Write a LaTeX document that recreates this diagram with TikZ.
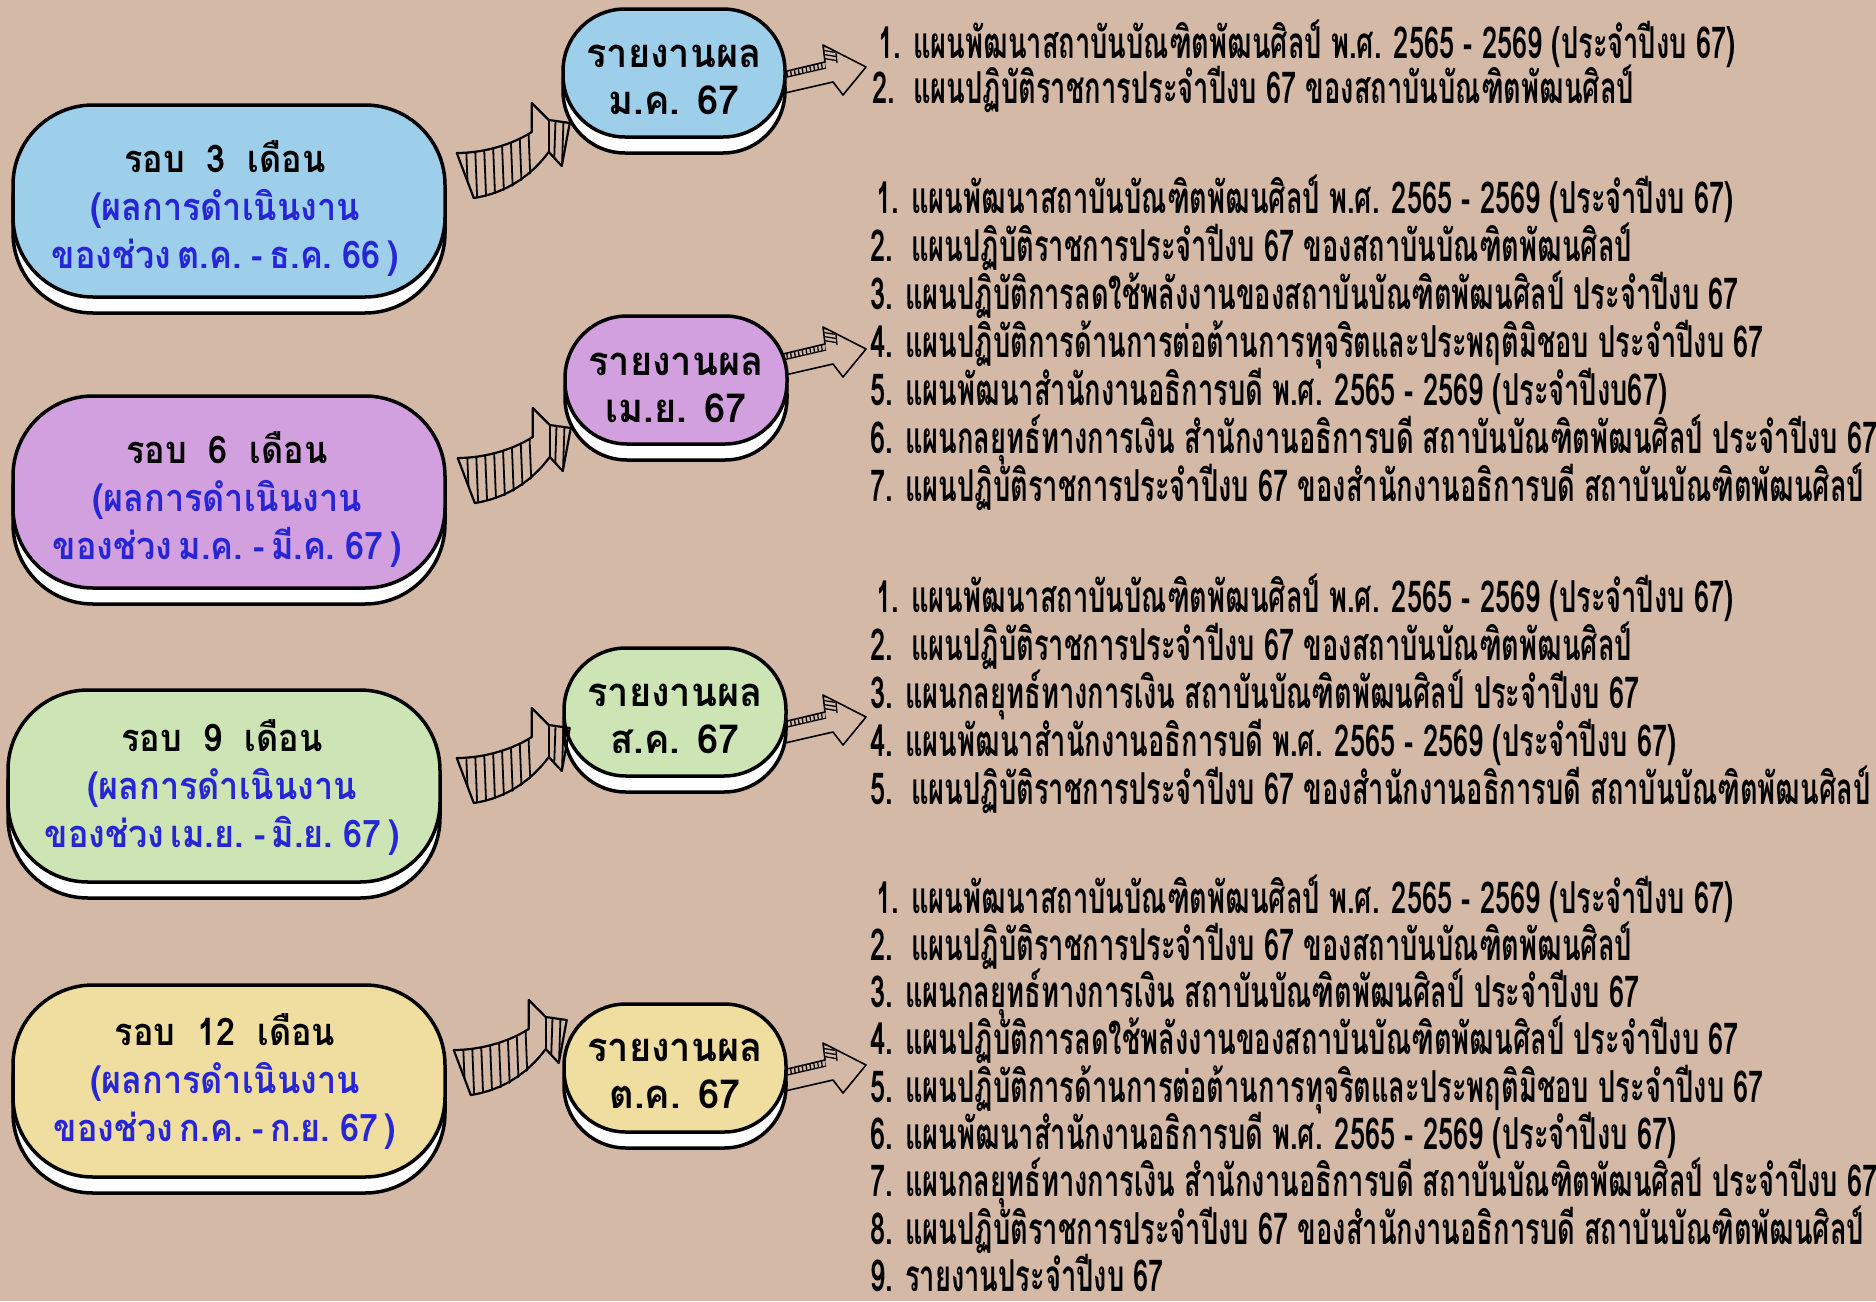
\documentclass[tikz,border=0pt]{standalone}
\usepackage{fontspec}
\usetikzlibrary{shadows,calc}
\newfontfamily\thaibox[Script=Thai,FakeStretch=0.9,WordSpace=0.55]{Loma}
\newfontfamily\thairep[Script=Thai,FakeStretch=0.95]{Loma}
\newfontfamily\thaicond[Script=Thai,FakeStretch=0.62]{Loma}
\newcommand{\gapw}{\hspace{22pt}}
\definecolor{bg}{RGB}{213,185,167}
\definecolor{cblue}{RGB}{157,206,234}
\definecolor{cpurple}{RGB}{210,160,222}
\definecolor{cgreen}{RGB}{205,228,181}
\definecolor{cyellow}{RGB}{240,221,160}
\definecolor{tblue}{RGB}{38,38,214}
\tikzset{
  boxshadow/.style={copy shadow={shadow xshift=0pt, shadow yshift=-16pt, fill=white, draw=black, line width=3.5pt}},
  bigbox/.style={draw=black, line width=3.5pt, rounded corners=80pt, minimum width=432pt, minimum height=192pt,
    inner sep=0pt, boxshadow},
  bigtext/.style={align=center, inner sep=0pt, font=\thaibox\bfseries\fontsize{38}{48}\selectfont},
  repbox/.style={draw=black, line width=3.5pt, rounded corners=62pt, minimum width=222pt, minimum height=128pt,
    inner sep=0pt, boxshadow},
  reptext/.style={align=center, inner sep=0pt, font=\thairep\bfseries\fontsize{40}{47}\selectfont},
  listline/.style={anchor=base west, inner sep=0pt, text depth=3pt, font=\thaicond\bfseries\fontsize{44}{48}\selectfont},
  arrowline/.style={line width=2.2pt, line join=round, line cap=round},
  hatch/.style={line width=1.8pt},
  bigarrow/.pic={
    \begin{scope}
      \clip (0,0) .. controls (30,0) and (58,-10) .. (75,-21) -- (76,19) .. controls (55,37) and (40,42) .. (17,45) -- cycle;
      \foreach \x in {8,17,...,80} \draw[hatch] (\x,-40) -- (\x+4,60);
    \end{scope}
    \begin{scope}
      \clip (92,-33) -- (113,-30) -- (105,13) -- (92,-1) -- cycle;
      \foreach \x in {99,107} \draw[hatch] (\x,-40) -- (\x-2,20);
    \end{scope}
    \draw[arrowline] (0,0) .. controls (30,0) and (58,-10) .. (75,-21) -- (75,-50) -- (92,-33) -- (113,-30)
      -- (105,13) -- (92,-1) .. controls (75,22) and (50,40) .. (17,45) -- cycle;
    \draw[arrowline] (92,-33) -- (92,-1);
  },
  smallarrow/.pic={
    \begin{scope}
      \clip (0,2) -- (42,-8) -- (43,-2) -- (0,8) -- cycle;
      \foreach \x in {2,6,...,46} \draw[line width=1.3pt] (\x,-10) -- (\x+3,10);
    \end{scope}
    \begin{scope}
      \clip (40,-25) -- (53,-17) -- (54,-7) -- (42,-8) -- cycle;
      \foreach \y in {-24,-20,...,-6} \draw[line width=1.3pt] (38,\y) -- (56,\y+3);
    \end{scope}
    \draw[line width=1.6pt, line join=round] (0,2) -- (42,-8) -- (40,-25) -- (83,-3) -- (60,25) -- (50,12) -- (2,23);
    \draw[line width=1.3pt] (0,8) -- (43,-2);
    \draw[line width=1.3pt] (53,-17) -- (54,-7);
  }
}
\begin{document}
\begin{tikzpicture}[x=1pt,y=-1pt]
\useasboundingbox (0,0) rectangle (1876,1301);
\fill[bg] (0,0) rectangle (1876,1301);

% small arrows (drawn first, report boxes cover their roots)
\pic at (783,70) {smallarrow};
\pic at (783,352) {smallarrow};
\pic at (783,720) {smallarrow};
\pic at (783,1068) {smallarrow};

% period boxes
\node[bigbox, fill=cblue] (b1) at (229,201) {};
\node[bigbox, fill=cpurple] (b2) at (229,492) {};
\node[bigbox, fill=cgreen] (b3) at (224,786) {};
\node[bigbox, fill=cyellow] (b4) at (229,1081) {};
\node[bigtext] (t1) at ($(b1.center)+(-4,8)$) {รอบ\gapw 3\gapw เดือน\\\textcolor{tblue}{(ผลการดำเนินงาน}\\\textcolor{tblue}{ของช่วง ต.ค. - ธ.ค. 66 )}};
\node[bigtext] (t2) at ($(b2.center)+(-2,8)$) {รอบ\gapw 6\gapw เดือน\\\textcolor{tblue}{(ผลการดำเนินงาน}\\\textcolor{tblue}{ของช่วง ม.ค. - มี.ค. 67 )}};
\node[bigtext] (t3) at ($(b3.center)+(-2,2)$) {รอบ\gapw 9\gapw เดือน\\\textcolor{tblue}{(ผลการดำเนินงาน}\\\textcolor{tblue}{ของช่วง เม.ย. - มิ.ย. 67 )}};
\node[bigtext] (t4) at ($(b4.center)+(-4,0)$) {รอบ\gapw 12\gapw เดือน\\\textcolor{tblue}{(ผลการดำเนินงาน}\\\textcolor{tblue}{ของช่วง ก.ค. - ก.ย. 67 )}};

% report boxes
\node[repbox, fill=cblue] (r1) at (674,73) {};
\node[repbox, fill=cpurple] (r2) at (676,380) {};
\node[repbox, fill=cgreen] (r3) at (675,712) {};
\node[repbox, fill=cyellow] (r4) at (675,1068) {};
\node[reptext] (s1) at ($(r1.center)+(0,7)$) {รายงานผล\\ม.ค. 67};
\node[reptext] (s2) at ($(r2.center)+(0,8)$) {รายงานผล\\เม.ย. 67};
\node[reptext] (s3) at ($(r3.center)+(0,7)$) {รายงานผล\\ส.ค. 67};
\node[reptext] (s4) at ($(r4.center)+(0,6)$) {รายงานผล\\ต.ค. 67};

% big hand-drawn arrows between the boxes
\pic at ($(b1.east)+(10,-48)$) {bigarrow};
\pic at ($(b2.east)+(11,-34)$) {bigarrow};
\pic at ($(b3.east)+(15,-28)$) {bigarrow};
\pic at ($(b4.east)+(7,-31)$) {bigarrow};

% lists
\foreach \t [count=\i] in {
  {\hspace{6pt}1. แผนพัฒนาสถาบันบัณฑิตพัฒนศิลป์ พ.ศ. 2565 - 2569 (ประจำปีงบ 67)},
  {2.\ \ แผนปฏิบัติราชการประจำปีงบ 67 ของสถาบันบัณฑิตพัฒนศิลป์}}
  \node[listline] (la\i) at (872,{58+45*(\i-1)}) {\t};

\foreach \t [count=\i] in {
  {\hspace{6pt}1. แผนพัฒนาสถาบันบัณฑิตพัฒนศิลป์ พ.ศ. 2565 - 2569 (ประจำปีงบ 67)},
  {2.\ \ แผนปฏิบัติราชการประจำปีงบ 67 ของสถาบันบัณฑิตพัฒนศิลป์},
  {3. แผนปฏิบัติการลดใช้พลังงานของสถาบันบัณฑิตพัฒนศิลป์ ประจำปีงบ 67},
  {4. แผนปฏิบัติการด้านการต่อต้านการทุจริตและประพฤติมิชอบ ประจำปีงบ 67},
  {5. แผนพัฒนาสำนักงานอธิการบดี พ.ศ. 2565 - 2569 (ประจำปีงบ67)},
  {6. แผนกลยุทธ์ทางการเงิน สำนักงานอธิการบดี สถาบันบัณฑิตพัฒนศิลป์ ประจำปีงบ 67},
  {7. แผนปฏิบัติราชการประจำปีงบ 67 ของสำนักงานอธิการบดี สถาบันบัณฑิตพัฒนศิลป์}}
  \node[listline] (lb\i) at (870,{213+48*(\i-1)}) {\t};

\foreach \t [count=\i] in {
  {\hspace{6pt}1. แผนพัฒนาสถาบันบัณฑิตพัฒนศิลป์ พ.ศ. 2565 - 2569 (ประจำปีงบ 67)},
  {2.\ \ แผนปฏิบัติราชการประจำปีงบ 67 ของสถาบันบัณฑิตพัฒนศิลป์},
  {3. แผนกลยุทธ์ทางการเงิน สถาบันบัณฑิตพัฒนศิลป์ ประจำปีงบ 67},
  {4. แผนพัฒนาสำนักงานอธิการบดี พ.ศ. 2565 - 2569 (ประจำปีงบ 67)},
  {5.\ \ แผนปฏิบัติราชการประจำปีงบ 67 ของสำนักงานอธิการบดี สถาบันบัณฑิตพัฒนศิลป์}}
  \node[listline] (lc\i) at (870,{612+48*(\i-1)}) {\t};

\foreach \t [count=\i] in {
  {\hspace{6pt}1. แผนพัฒนาสถาบันบัณฑิตพัฒนศิลป์ พ.ศ. 2565 - 2569 (ประจำปีงบ 67)},
  {2.\ \ แผนปฏิบัติราชการประจำปีงบ 67 ของสถาบันบัณฑิตพัฒนศิลป์},
  {3. แผนกลยุทธ์ทางการเงิน สถาบันบัณฑิตพัฒนศิลป์ ประจำปีงบ 67},
  {4. แผนปฏิบัติการลดใช้พลังงานของสถาบันบัณฑิตพัฒนศิลป์ ประจำปีงบ 67},
  {5. แผนปฏิบัติการด้านการต่อต้านการทุจริตและประพฤติมิชอบ ประจำปีงบ 67},
  {6. แผนพัฒนาสำนักงานอธิการบดี พ.ศ. 2565 - 2569 (ประจำปีงบ 67)},
  {7. แผนกลยุทธ์ทางการเงิน สำนักงานอธิการบดี สถาบันบัณฑิตพัฒนศิลป์ ประจำปีงบ 67},
  {8. แผนปฏิบัติราชการประจำปีงบ 67 ของสำนักงานอธิการบดี สถาบันบัณฑิตพัฒนศิลป์},
  {9. รายงานประจำปีงบ 67}}
  \node[listline] (ld\i) at (870,{913+47.3*(\i-1)}) {\t};
\end{tikzpicture}
\end{document}
